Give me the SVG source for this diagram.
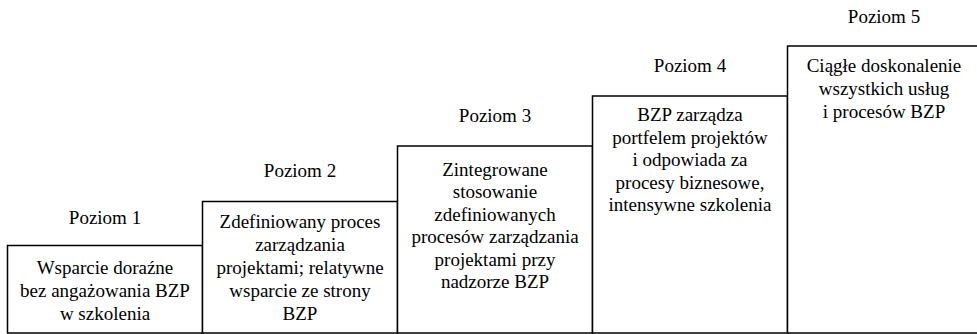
<svg xmlns="http://www.w3.org/2000/svg" width="977" height="334" viewBox="0 0 977 334">
<style>
.box{fill:#fff;stroke:#000;stroke-width:1.5}
text{font-family:"Liberation Serif","Times New Roman",serif;font-size:19px;fill:#000;text-anchor:middle}
</style>
<rect width="977" height="334" fill="#fff"/>
<g id="connectors"></g>
<g id="level1">
<rect class="box" x="7.5" y="245.5" width="195" height="87.5"/>
<text x="105" y="224">Poziom 1</text>
<text x="105" y="274.3">Wsparcie doraźne</text>
<text x="105" y="297.3">bez angażowania BZP</text>
<text x="105" y="320.3">w szkolenia</text>
</g>
<g id="level2">
<rect class="box" x="202.5" y="201.5" width="195" height="131.5"/>
<text x="300" y="176.7">Poziom 2</text>
<text x="300" y="228">Zdefiniowany proces</text>
<text x="300" y="251">zarządzania</text>
<text x="300" y="274">projektami; relatywne</text>
<text x="300" y="297">wsparcie ze strony</text>
<text x="300" y="320">BZP</text>
</g>
<g id="level3">
<rect class="box" x="397.5" y="146" width="195" height="187"/>
<text x="495" y="121.7">Poziom 3</text>
<text x="495" y="175.5">Zintegrowane</text>
<text x="495" y="198">stosowanie</text>
<text x="495" y="220.5">zdefiniowanych</text>
<text x="495" y="243">procesów zarządzania</text>
<text x="495" y="265.5">projektami przy</text>
<text x="495" y="288">nadzorze BZP</text>
</g>
<g id="level4">
<rect class="box" x="592.5" y="96" width="195" height="237"/>
<text x="690" y="72.3">Poziom 4</text>
<text x="690" y="121">BZP zarządza</text>
<text x="690" y="143.5">portfelem projektów</text>
<text x="690" y="166">i odpowiada za</text>
<text x="690" y="188.5">procesy biznesowe,</text>
<text x="690" y="211">intensywne szkolenia</text>
</g>
<g id="level5">
<rect class="box" x="787.5" y="46" width="195" height="287"/>
<text x="884" y="22.7">Poziom 5</text>
<text x="884" y="71.7">Ciągłe doskonalenie</text>
<text x="884" y="95">wszystkich usług</text>
<text x="884" y="118.3">i procesów BZP</text>
</g>
</svg>
